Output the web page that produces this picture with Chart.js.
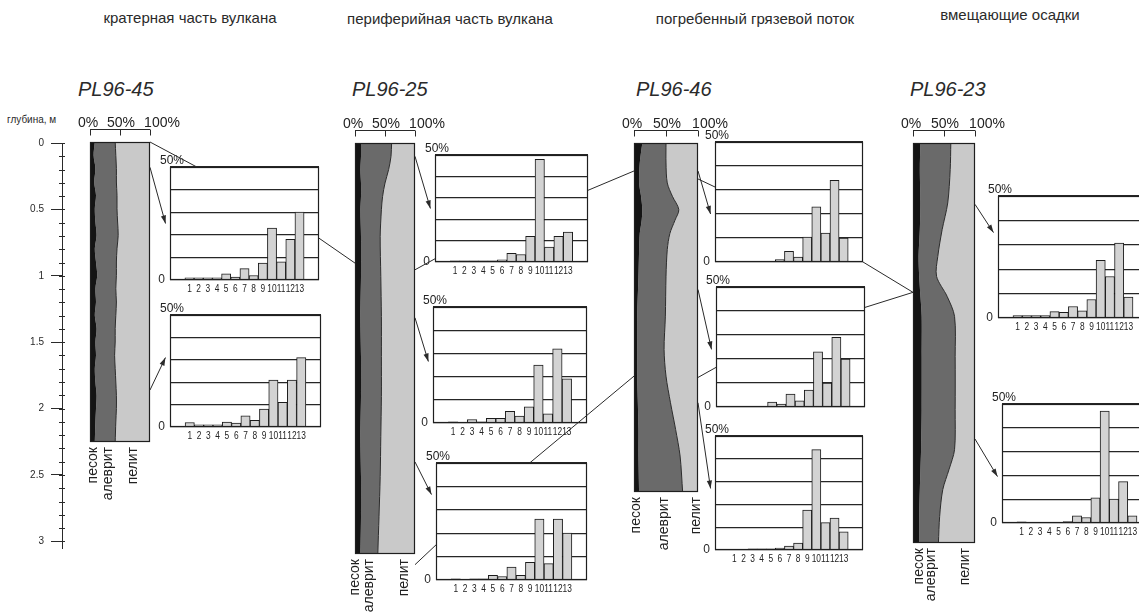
<!DOCTYPE html>
<html>
<head>
<meta charset="utf-8">
<script src="https://cdn.jsdelivr.net/npm/chart.js@4.4.1/dist/chart.umd.min.js"></script>
<style>
    body { margin: 0; width: 1139px; height: 615px; overflow: hidden; background: #fff; position: relative; font-family: "Liberation Sans", Arial, sans-serif; color: #2a2a2a; }
    .titulo { position: absolute; font-size: 15px; line-height: 16px; white-space: nowrap; transform: translateX(-50%); }
    .pozo { position: absolute; font-size: 20px; line-height: 20px; font-style: italic; white-space: nowrap; }
    .prof { position: absolute; left: 7px; top: 114px; font-size: 10px; }
    canvas { position: absolute; }
</style>
</head>
<body>
<div class="titulo" style="left:190px;top:10px">кратерная часть вулкана</div>
<div class="titulo" style="left:450px;top:11px">периферийная часть вулкана</div>
<div class="titulo" style="left:755px;top:11px">погребенный грязевой поток</div>
<div class="titulo" style="left:1010px;top:7px">вмещающие осадки</div>
<div class="prof">глубина, м</div>

<script>
// CATEGORÍAS Y TICKS
var cat_fracciones = [1, 2, 3, 4, 5, 6, 7, 8, 9, 10, 11, 12, 13];
var ticks_histograma = [0, 10, 20, 30, 40, 50];
var ticks_profundidad = [0, 0.5, 1, 1.5, 2, 2.5, 3];
var ticks_porcentaje = [0, 50, 100];
var nombres_fracciones = ['песок', 'алеврит', 'пелит'];

// PERFILES DE LOS NÚCLEOS (profundidad m, % arena, % limo; el resto es pelita)
var prof_45 = [0, 0.1, 0.2, 0.3, 0.4, 0.5, 0.6, 0.7, 0.8, 0.9, 1.0, 1.1, 1.2, 1.3, 1.4, 1.5, 1.6, 1.7, 1.8, 1.9, 2.0, 2.1, 2.25];
var arena_45 = [8, 6, 9, 7, 10, 8, 9, 11, 8, 10, 12, 9, 10, 8, 11, 9, 10, 8, 9, 11, 10, 9, 8];
var limo_45 = [34, 37, 35, 37, 35, 37, 37, 36, 37, 34, 32, 34, 34, 35, 31, 33, 31, 34, 34, 33, 34, 34, 34];

var prof_25 = [0, 0.1, 0.2, 0.3, 0.4, 0.5, 0.7, 1.0, 1.3, 1.6, 1.9, 2.2, 2.5, 2.8, 3.08];
var arena_25 = [10, 10, 9, 10, 10, 9, 10, 10, 9, 10, 10, 9, 10, 10, 9];
var limo_25 = [51, 50, 47, 40, 36, 35, 32, 33, 35, 34, 34, 34, 32, 30, 29];

var prof_46 = [0, 0.15, 0.3, 0.4, 0.5, 0.58, 0.68, 0.8, 1.0, 1.3, 1.55, 1.75, 1.95, 2.15, 2.35, 2.62];
var arena_46 = [13, 9, 8, 11, 13, 12, 9, 8, 7, 5, 5, 5, 6, 7, 7, 8];
var limo_46 = [37, 41, 44, 49, 57, 52, 47, 44, 43, 44, 42, 45, 51, 58, 65, 68];

var prof_23 = [0, 0.2, 0.45, 0.65, 0.85, 1.0, 1.15, 1.3, 1.6, 2.0, 2.3, 2.45, 2.6, 2.8, 3.0];
var arena_23 = [12, 11, 12, 11, 9, 10, 12, 14, 14, 14, 13, 12, 11, 10, 10];
var limo_23 = [49, 49, 44, 36, 31, 28, 43, 53, 54, 54, 54, 46, 37, 33, 31];

// HISTOGRAMAS GRANULOMÉTRICOS (% por fracción 1..13)
var h_45a = [1, 1, 1, 1, 2.7, 1.3, 5, 2, 7.5, 23, 8, 18, 30];
var h_45b = [2, 1, 1, 1, 2.2, 1.8, 5, 3, 8, 21, 11, 21, 31];
var h_25a = [0.5, 0.5, 0.5, 0.5, 0.5, 1, 4, 3.5, 12, 48, 7, 12, 14];
var h_25b = [0.5, 0.3, 1.5, 0.5, 2, 2, 5, 3, 7, 25, 4, 32, 19];
var h_25c = [0.5, 0.3, 0.5, 0.5, 2, 1.5, 5.5, 2, 7.5, 26, 7, 26, 20];
var h_46a = [0.3, 0.3, 0.3, 0.3, 0.3, 1, 4.4, 2, 10.4, 23, 12, 34, 10];
var h_46b = [0.3, 0.3, 0.3, 0.3, 2, 1.2, 5.4, 2.6, 7, 23, 10, 29, 20];
var h_46c = [0.3, 0.3, 0.5, 0.5, 0.5, 0.8, 1.7, 3, 17.5, 44, 12, 14, 8];
var h_23a = [1, 1, 1, 1, 2.6, 2.3, 4.7, 2.9, 7.6, 23.6, 17, 30.7, 8.6];
var h_23b = [0.5, 0.3, 0.3, 0.3, 0.3, 0.6, 3, 2.3, 10.6, 47, 10, 17.4, 3];

// DISPOSICIÓN
var ESCALA_M = 133.3;   // px por metro
var Y_CERO = 142;
var FUENTE = '"Liberation Sans", Arial, sans-serif';

var nucleos = [
    { nombre: 'PL96-45', prof: prof_45, arena: arena_45, limo: limo_45, x: 90, y: 142, w: 60, etiquetas: [5, 30, 72], titulo: [78, 79] },
    { nombre: 'PL96-25', prof: prof_25, arena: arena_25, limo: limo_25, x: 355, y: 143, w: 60, etiquetas: [0, 24, 82], titulo: [352, 79] },
    { nombre: 'PL96-46', prof: prof_46, arena: arena_46, limo: limo_46, x: 634, y: 143, w: 64, etiquetas: [3, 47, 97], titulo: [636, 79] },
    { nombre: 'PL96-23', prof: prof_23, arena: arena_23, limo: limo_23, x: 913, y: 143, w: 62, etiquetas: [10, 29, 84], titulo: [910, 79] }
];

var histogramas = [
    { id: '45a', datos: h_45a, caja: [170, 167, 319, 280], numeros: true },
    { id: '45b', datos: h_45b, caja: [170, 315, 321, 427], numeros: true },
    { id: '25a', datos: h_25a, caja: [435, 155, 588, 262], numeros: true },
    { id: '25b', datos: h_25b, caja: [433, 307, 587, 423], numeros: true },
    { id: '25c', datos: h_25c, caja: [436, 463, 587, 580], numeros: true },
    { id: '46a', datos: h_46a, caja: [715, 142, 863, 262], numeros: false },
    { id: '46b', datos: h_46b, caja: [716, 287, 865, 407], numeros: false },
    { id: '46c', datos: h_46c, caja: [715, 436, 863, 550], numeros: true },
    { id: '23a', datos: h_23a, caja: [998, 196, 1148, 318], numeros: true },
    { id: '23b', datos: h_23b, caja: [1002, 404, 1152, 523], numeros: true }
];

// LÍNEAS Y FLECHAS ENTRE NÚCLEOS E HISTOGRAMAS
// ['n', núcleo, lado, profundidad]  /  ['h', id, fracción x, fracción y]
var conexiones = [
    ['linea', ['n', 0, 'der', 0], ['h', '45a', 0.18, 0]],
    ['flecha', ['n', 0, 'der', 0.19], ['h', '45a', -0.03, 0.5]],
    ['flecha', ['n', 0, 'der', 1.86], ['h', '45b', -0.03, 0.38]],
    ['linea', ['h', '45a', 1, 0.63], ['n', 1, 'izq', 0.9]],
    ['flecha', ['n', 1, 'der', 0.1], ['h', '25a', -0.03, 0.5]],
    ['linea', ['n', 1, 'der', 0.95], ['h', '25a', 0, 0.97]],
    ['flecha', ['n', 1, 'der', 1.31], ['h', '25b', -0.03, 0.47]],
    ['flecha', ['n', 1, 'der', 2.39], ['h', '25c', -0.03, 0.27]],
    ['linea', ['n', 1, 'der', 3.16], ['h', '25c', 0, 0.7]],
    ['linea', ['h', '25a', 1, 0.33], ['n', 2, 'izq', 0.21]],
    ['linea', ['h', '25c', 0.62, 0], ['n', 2, 'izq', 1.75]],
    ['linea', ['n', 2, 'der', 0.27], ['h', '46a', 0, 0.375]],
    ['flecha', ['n', 2, 'der', 0.21], ['h', '46a', -0.03, 0.6]],
    ['flecha', ['n', 2, 'der', 1.1], ['h', '46b', -0.03, 0.52]],
    ['linea', ['n', 2, 'der', 1.76], ['h', '46b', 0, 0.67]],
    ['flecha', ['n', 2, 'der', 1.95], ['h', '46c', -0.03, 0.46]],
    ['linea', ['h', '46a', 1, 1], ['n', 3, 'izq', 1.12]],
    ['linea', ['h', '46b', 1, 0.17], ['n', 3, 'izq', 1.12]],
    ['flecha', ['n', 3, 'der', 0.46], ['h', '23a', -0.03, 0.3]],
    ['flecha', ['n', 3, 'der', 2.22], ['h', '23b', -0.03, 0.61]]
];

var graficos_nucleos = [];
var graficos_histogramas = {};

Chart.defaults.font.family = FUENTE;
Chart.defaults.color = '#2a2a2a';

function Nuevo_Canvas(x, y, w, h) {
    var c = document.createElement('canvas');
    c.width = Math.round(w);
    c.height = Math.round(h);
    c.style.left = Math.round(x) + 'px';
    c.style.top = Math.round(y) + 'px';
    c.style.width = Math.round(w) + 'px';
    c.style.height = Math.round(h) + 'px';
    document.body.appendChild(c);
    return c;
}

// MARCO DEL ÁREA DE DATOS
var plugin_marco = {
    id: 'marco',
    afterDatasetsDraw: function(chart) {
        var a = chart.chartArea;
        var ctx = chart.ctx;
        ctx.save();
        ctx.strokeStyle = '#1f1f1f';
        ctx.lineWidth = 1.2;
        ctx.strokeRect(Math.round(a.left) + 0.5, Math.round(a.top) + 0.5, Math.round(a.right - a.left) - 1, Math.round(a.bottom - a.top) - 1);
        ctx.restore();
    }
};

// SUBDIVISIONES DEL EJE DE PROFUNDIDAD (cada 0.1 m)
var plugin_subdivisiones = {
    id: 'subdivisiones',
    afterDraw: function(chart) {
        var ctx = chart.ctx;
        var s = chart.scales.y;
        ctx.save();
        ctx.strokeStyle = '#2a2a2a';
        ctx.lineWidth = 1;
        ctx.beginPath();
        for (var i = 0; i <= 30; i++) {
            var py = Math.round(s.getPixelForValue(i / 10)) + 0.5;
            ctx.moveTo(s.right - 3, py);
            ctx.lineTo(s.right + 3, py);
        }
        ctx.stroke();
        ctx.restore();
    }
};

// CABECERA 0% 50% 100% Y NOMBRES DE FRACCIONES
var plugin_cabecera = {
    id: 'cabecera',
    afterDraw: function(chart, args, opts) {
        var ctx = chart.ctx;
        var sx = chart.scales.x;
        var a = chart.chartArea;
        var yb = Math.round(a.top) - 13 + 0.5;
        ctx.save();
        ctx.strokeStyle = '#2a2a2a';
        ctx.lineWidth = 1;
        ctx.beginPath();
        ctx.moveTo(sx.getPixelForValue(0), yb);
        ctx.lineTo(sx.getPixelForValue(100), yb);
        ticks_porcentaje.forEach(function(v) {
            var px = Math.round(sx.getPixelForValue(v)) + 0.5;
            ctx.moveTo(px, yb);
            ctx.lineTo(px, yb + 6);
        });
        ctx.stroke();

        ctx.fillStyle = '#222';
        ctx.font = '14px ' + FUENTE;
        ctx.textAlign = 'center';
        ctx.textBaseline = 'alphabetic';
        var ajuste = [-2, 1, 12];
        ticks_porcentaje.forEach(function(v, i) {
            ctx.fillText(v + '%', sx.getPixelForValue(v) + ajuste[i], yb - 3);
        });

        ctx.textAlign = 'right';
        ctx.textBaseline = 'middle';
        nombres_fracciones.forEach(function(t, i) {
            ctx.save();
            ctx.translate(sx.getPixelForValue(opts.etiquetas[i]), a.bottom + 5);
            ctx.rotate(-Math.PI / 2);
            ctx.fillText(t, 0, 0);
            ctx.restore();
        });
        ctx.restore();
    }
};

// ETIQUETA 50% Y NÚMEROS DE FRACCIÓN (letra estrecha) DE CADA HISTOGRAMA
var plugin_rotulos = {
    id: 'rotulos',
    afterDraw: function(chart, args, opts) {
        var ctx = chart.ctx;
        var sy = chart.scales.y;
        var sx = chart.scales.x;
        var a = chart.chartArea;
        ctx.save();
        ctx.fillStyle = '#222';
        ctx.font = '12px ' + FUENTE;
        ctx.textAlign = 'left';
        ctx.textBaseline = 'alphabetic';
        ctx.fillText(ticks_histograma[ticks_histograma.length - 1] + '%', a.left - 10, sy.getPixelForValue(50) - 3);
        if (opts.numeros) {
            ctx.font = '11px ' + FUENTE;
            ctx.textAlign = 'center';
            ctx.textBaseline = 'top';
            sx.ticks.forEach(function(t) {
                ctx.save();
                ctx.translate(sx.getPixelForValue(t.value), a.bottom + 3);
                ctx.scale(0.76, 1);
                ctx.fillText(String(t.value), 0, 0);
                ctx.restore();
            });
        }
        ctx.restore();
    }
};

// EJE DE PROFUNDIDAD
function Crear_Eje_Profundidad() {
    var maxp = 3.05;
    var c = Nuevo_Canvas(0, Y_CERO - 12, 70, maxp * ESCALA_M + 24);
    new Chart(c, {
        type: 'scatter',
        data: { datasets: [] },
        options: {
            responsive: false,
            animation: false,
            layout: { padding: { top: 12, bottom: 12, right: 0 } },
            plugins: { legend: { display: false }, tooltip: { enabled: false } },
            scales: {
                x: { display: false, min: 0, max: 1 },
                y: {
                    min: 0,
                    max: maxp,
                    reverse: true,
                    afterBuildTicks: function(s) {
                        s.ticks = ticks_profundidad.map(function(v) { return { value: v }; });
                    },
                    afterFit: function(s) { s.width = 62; },
                    grid: { drawOnChartArea: false, tickLength: 11, color: '#2a2a2a' },
                    border: { display: true, color: '#2a2a2a' },
                    ticks: {
                        padding: 7,
                        font: { size: 10 },
                        callback: function(v) { return String(v); }
                    }
                }
            }
        },
        plugins: [plugin_subdivisiones]
    });
}

// NÚCLEO (COLUMNA DE COMPOSICIÓN)
function Crear_Nucleo(n) {
    var largo = n.prof[n.prof.length - 1];
    var alto = largo * ESCALA_M;
    var pad = { left: 16, right: 30, top: 30, bottom: 80 };
    var c = Nuevo_Canvas(n.x - pad.left, n.y - pad.top, n.w + pad.left + pad.right, alto + pad.top + pad.bottom);

    var lim_arena = n.prof.map(function(p, i) { return { x: n.arena[i], y: p }; });
    var lim_limo = n.prof.map(function(p, i) { return { x: n.arena[i] + n.limo[i], y: p }; });
    var lim_pelita = n.prof.map(function(p) { return { x: 100, y: p }; });

    var g = new Chart(c, {
        type: 'line',
        data: {
            datasets: [
                { label: 'песок', data: lim_arena, fill: 'origin', backgroundColor: '#141414', borderWidth: 0, pointRadius: 0, tension: 0.3 },
                { label: 'алеврит', data: lim_limo, fill: '-1', backgroundColor: '#6a6a6a', borderColor: '#2b2b2b', borderWidth: 1, pointRadius: 0, tension: 0.3 },
                { label: 'пелит', data: lim_pelita, fill: '-1', backgroundColor: '#c9c9c9', borderWidth: 0, pointRadius: 0 }
            ]
        },
        options: {
            indexAxis: 'y',
            responsive: false,
            animation: false,
            layout: { padding: pad },
            scales: {
                x: { type: 'linear', display: false, min: 0, max: 100 },
                y: { type: 'linear', display: false, min: 0, max: largo, reverse: true }
            },
            plugins: {
                legend: { display: false },
                tooltip: { enabled: false },
                cabecera: { etiquetas: n.etiquetas }
            }
        },
        plugins: [plugin_marco, plugin_cabecera]
    });

    var t = document.createElement('div');
    t.className = 'pozo';
    t.style.left = n.titulo[0] + 'px';
    t.style.top = n.titulo[1] + 'px';
    t.textContent = n.nombre;
    document.body.appendChild(t);
    return g;
}

// HISTOGRAMA
function Crear_Histograma(h) {
    var L = 20, T = 16, R = 4, B = 16;
    var caja = h.caja;
    var w = caja[2] - caja[0];
    var alto = caja[3] - caja[1];
    var c = Nuevo_Canvas(caja[0] - L, caja[1] - T, w + L + R, alto + T + B);
    return new Chart(c, {
        type: 'bar',
        data: {
            labels: cat_fracciones,
            datasets: [{
                data: h.datos,
                backgroundColor: '#d3d3d3',
                borderColor: '#1c1c1c',
                borderWidth: 1,
                barPercentage: 1,
                categoryPercentage: 1
            }]
        },
        options: {
            responsive: false,
            animation: false,
            layout: { padding: { top: T, right: R } },
            plugins: {
                legend: { display: false },
                tooltip: { enabled: false },
                rotulos: { numeros: h.numeros }
            },
            scales: {
                x: {
                    type: 'linear',
                    min: -0.5,
                    max: 14.5,
                    afterBuildTicks: function(s) {
                        s.ticks = cat_fracciones.map(function(v) { return { value: v }; });
                    },
                    afterFit: function(s) { s.height = B; },
                    grid: { display: false, drawTicks: false },
                    border: { display: false },
                    ticks: { display: false }
                },
                y: {
                    min: 0,
                    max: 50,
                    afterBuildTicks: function(s) {
                        s.ticks = ticks_histograma.map(function(v) { return { value: v }; });
                    },
                    afterFit: function(s) { s.width = L; },
                    grid: { color: '#262626', lineWidth: 1.2, drawTicks: false },
                    border: { display: false },
                    ticks: {
                        padding: 5,
                        font: { size: 12 },
                        callback: function(v) { return v === 0 ? '0' : ''; }
                    }
                }
            }
        },
        plugins: [plugin_marco, plugin_rotulos]
    });
}

function Punto(ref) {
    var g, a;
    if (ref[0] === 'n') {
        g = graficos_nucleos[ref[1]];
        a = g.chartArea;
        return {
            x: g.canvas.offsetLeft + (ref[2] === 'der' ? a.right : a.left),
            y: g.canvas.offsetTop + g.scales.y.getPixelForValue(ref[3])
        };
    }
    g = graficos_histogramas[ref[1]];
    a = g.chartArea;
    return {
        x: g.canvas.offsetLeft + a.left + ref[2] * (a.right - a.left),
        y: g.canvas.offsetTop + a.top + ref[3] * (a.bottom - a.top)
    };
}

// CONEXIONES SOBRE TODO EL DIBUJO
function Dibujar_Conexiones() {
    var c = Nuevo_Canvas(0, 0, 1139, 615);
    c.style.zIndex = 5;
    c.style.pointerEvents = 'none';
    var ctx = c.getContext('2d');
    ctx.strokeStyle = '#2a2a2a';
    ctx.fillStyle = '#2a2a2a';
    ctx.lineWidth = 1;
    conexiones.forEach(function(k) {
        var p = Punto(k[1]);
        var q = Punto(k[2]);
        ctx.beginPath();
        ctx.moveTo(p.x, p.y);
        ctx.lineTo(q.x, q.y);
        ctx.stroke();
        if (k[0] === 'flecha') {
            var ang = Math.atan2(q.y - p.y, q.x - p.x);
            ctx.beginPath();
            ctx.moveTo(q.x, q.y);
            ctx.lineTo(q.x - 8 * Math.cos(ang) + 2.6 * Math.sin(ang), q.y - 8 * Math.sin(ang) - 2.6 * Math.cos(ang));
            ctx.lineTo(q.x - 8 * Math.cos(ang) - 2.6 * Math.sin(ang), q.y - 8 * Math.sin(ang) + 2.6 * Math.cos(ang));
            ctx.closePath();
            ctx.fill();
        }
    });
}

// CARGAR FIGURA COMPLETA
function Cargar_Figura() {
    Crear_Eje_Profundidad();
    nucleos.forEach(function(n) {
        graficos_nucleos.push(Crear_Nucleo(n));
    });
    histogramas.forEach(function(h) {
        graficos_histogramas[h.id] = Crear_Histograma(h);
    });
    Dibujar_Conexiones();
}

Cargar_Figura();
</script>
</body>
</html>
